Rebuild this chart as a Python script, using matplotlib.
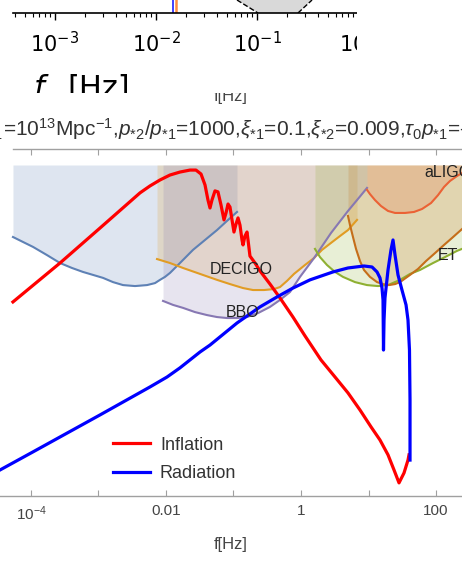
import numpy as np
import matplotlib
matplotlib.use("Agg")
import matplotlib.pyplot as plt
from matplotlib.patches import Rectangle
from matplotlib.transforms import Bbox, TransformedBbox

plt.rcParams["font.family"] = ["Liberation Sans", "DejaVu Sans"]
plt.rcParams["mathtext.fontset"] = "custom"
plt.rcParams["mathtext.rm"] = "Liberation Sans"
plt.rcParams["mathtext.it"] = "Liberation Sans:italic"
plt.rcParams["mathtext.bf"] = "Liberation Sans:bold"

# ---- data: log10(f [Hz]) and log10(Omega) ----
infl_logf = [-4.267, -3.570, -2.978, -2.385, -2.237, -2.089, -1.941, -1.793, -1.644,
             -1.556, -1.481, -1.422, -1.378, -1.348, -1.319, -1.274, -1.230, -1.185,
             -1.141, -1.111, -1.081, -1.052, -1.022, -0.993, -0.963, -0.933, -0.904,
             -0.874, -0.859, -0.830, -0.800, -0.785, -0.756, -0.681, -0.607, -0.459,
             -0.311, -0.119, 0.059, 0.296, 0.504, 0.696, 0.874, 1.037, 1.170, 1.289,
             1.378, 1.452, 1.526, 1.585, 1.600]
infl_logo = [-10.17, -8.60, -7.19, -5.77, -5.49, -5.25, -5.05, -4.93, -4.85,
             -4.85, -5.01, -5.45, -6.06, -6.38, -6.06, -5.69, -5.73, -6.26,
             -6.86, -6.58, -6.22, -6.34, -6.86, -7.35, -7.03, -6.78, -7.07,
             -7.67, -7.87, -7.51, -7.35, -7.67, -8.32, -8.60, -8.92, -9.45,
             -10.01, -10.78, -11.54, -12.51, -13.20, -13.84, -14.53, -15.21, -15.74, -16.34,
             -16.95, -17.47, -17.07, -16.55, -16.34]

rad_logf = [-4.459, -3.970, -2.978, -2.237, -1.985, -1.793, -1.496, -1.348, -0.948,
            -0.607, -0.356, -0.119, 0.133, 0.474, 0.696, 0.933, 1.052, 1.126, 1.170,
            1.200, 1.215, 1.222, 1.230, 1.244, 1.289, 1.333, 1.363, 1.393, 1.437,
            1.496, 1.556, 1.585, 1.607, 1.615, 1.615]
rad_logo = [-16.95, -16.22, -14.73, -13.60, -13.20, -12.83, -12.19, -11.91, -11.02,
            -10.37, -9.97, -9.61, -9.28, -8.96, -8.80, -8.72, -8.76, -8.96, -9.20,
            -9.61, -10.09, -12.11, -10.90, -10.01, -8.88, -8.07, -7.67, -8.28, -9.08,
            -9.69, -10.29, -10.90, -12.11, -14.13, -16.55]

lisa_logf = [-4.267, -4.119, -3.970, -3.763, -3.570, -3.393, -3.230, -3.081, -2.933,
             -2.785, -2.637, -2.459, -2.281, -2.163, -2.089, -2.015, -1.941, -1.793,
             -1.600, -1.422, -1.244, -1.096, -0.948]
lisa_logo = [-7.55, -7.75, -7.95, -8.28, -8.60, -8.80, -8.96, -9.08, -9.20,
             -9.37, -9.49, -9.53, -9.49, -9.41, -9.28, -9.16, -9.00, -8.60,
             -8.07, -7.67, -7.27, -6.90, -6.54]

decigo_logf = [-2.133, -1.941, -1.748, -1.496, -1.244, -1.052, -0.859, -0.711, -0.548,
               -0.400, -0.311, -0.207, -0.104, 0.059, 0.193, 0.311, 0.444, 0.578,
               0.696, 0.830]
decigo_logo = [-8.44, -8.60, -8.80, -9.04, -9.28, -9.45, -9.61, -9.69, -9.69,
               -9.65, -9.57, -9.32, -9.04, -8.68, -8.40, -8.07, -7.79, -7.51,
               -7.27, -6.86]

bbo_logf = [-2.044, -1.896, -1.748, -1.570, -1.393, -1.244, -1.096, -0.948, -0.800,
            -0.637, -0.459, -0.311, -0.163, -0.015, 0.193, 0.444, 0.696, 0.830, 0.978]
bbo_logo = [-10.13, -10.29, -10.41, -10.58, -10.70, -10.78, -10.82, -10.82, -10.78,
            -10.62, -10.37, -10.09, -9.77, -9.16, -8.40, -7.39, -6.50, -6.06, -5.57]

et_logf = [0.207, 0.281, 0.385, 0.504, 0.622, 0.800, 0.978, 1.141, 1.289, 1.467,
           1.615, 1.763, 1.956, 2.133, 2.311, 2.385]
et_logo = [-8.03, -8.36, -8.68, -8.96, -9.16, -9.37, -9.49, -9.53, -9.49, -9.28,
           -9.04, -8.88, -8.60, -8.36, -8.11, -8.03]

ce_logf = [0.696, 0.726, 0.770, 0.815, 0.874, 0.933, 1.022, 1.126, 1.215, 1.304,
           1.393, 1.467, 1.615, 1.733, 1.852, 1.985, 2.119, 2.237, 2.385]
ce_logo = [-6.70, -7.07, -7.55, -8.03, -8.52, -8.88, -9.16, -9.37, -9.45, -9.49,
           -9.45, -9.37, -9.08, -8.84, -8.52, -8.20, -7.87, -7.59, -7.23]

ligo_logf = [0.978, 1.022, 1.096, 1.185, 1.289, 1.393, 1.541, 1.674, 1.793, 1.926,
             2.030, 2.119, 2.207, 2.311, 2.385]
ligo_logo = [-5.65, -5.82, -6.06, -6.30, -6.50, -6.58, -6.58, -6.54, -6.42, -6.18,
             -5.86, -5.53, -5.29, -5.09, -4.97]

fill_top = -4.645

# detectors in the cropped strip at the top (log10 f)
strip_lines = [-1.832, -1.802]
strip_poly_f = [-1.198, -0.990, -0.594, -0.455]

W, H = 462, 561


def fx(px):
    return px / W


def fy(py):
    return 1 - py / H


fig = plt.figure(figsize=(W / 100, H / 100), dpi=100)

# ---------------- main panel ----------------
ax = fig.add_axes([0, fy(496), 1, (496 - 149) / H])
ax.set_xscale("log")
ax.set_yscale("log")

detectors = [
    (lisa_logf, lisa_logo, "#5e81b5"),
    (decigo_logf, decigo_logo, "#e19c24"),
    (bbo_logf, bbo_logo, "#8778b3"),
    (et_logf, et_logo, "#8fb032"),
    (ce_logf, ce_logo, "#c56e1a"),
    (ligo_logf, ligo_logo, "#eb6235"),
]
for lf, lo, c in detectors:
    f = 10.0 ** np.array(lf)
    o = 10.0 ** np.array(lo)
    ax.fill_between(f, o, 10.0 ** fill_top, color=c, alpha=0.2, lw=0)
for lf, lo, c in detectors:
    ax.plot(10.0 ** np.array(lf), 10.0 ** np.array(lo), color=c, lw=1.5)

l_inf, = ax.plot(10.0 ** np.array(infl_logf), 10.0 ** np.array(infl_logo),
                 color="#ff0000", lw=2.3, label="Inflation", zorder=5)
l_rad, = ax.plot(10.0 ** np.array(rad_logf), 10.0 ** np.array(rad_logo),
                 color="#0000ff", lw=2.3, label="Radiation", zorder=5)

lab_kw = dict(fontsize=11.5, color="#222222", va="center", zorder=6)
ax.text(10 ** -0.889, 10 ** -8.88, "DECIGO", ha="center", **lab_kw)
ax.text(10 ** -0.859, 10 ** -10.58, "BBO", ha="center", **lab_kw)
ax.text(10 ** 2.03, 10 ** -8.28, "ET", ha="left", **lab_kw)
ax.text(10 ** 1.822, 10 ** -4.93, "aLIGO", ha="left", **lab_kw)

ax.set_xlim(10 ** -4.459, 10 ** 2.385)
ax.set_ylim(1e-18, 1e-4)

for s in ["left", "right"]:
    ax.spines[s].set_visible(False)
for s in ["top", "bottom"]:
    ax.spines[s].set_color("#a0a0a0")
    ax.spines[s].set_linewidth(1.0)
ax.spines["top"].set_bounds(10 ** -4.267, 10 ** 2.385)

ax.set_xticks(10.0 ** np.arange(-4, 3))
ax.set_xticklabels([r"$10^{-4}$", "", "0.01", "", "1", "", "100"])
ax.xaxis.set_minor_locator(matplotlib.ticker.NullLocator())
ax.yaxis.set_major_locator(matplotlib.ticker.NullLocator())
ax.yaxis.set_minor_locator(matplotlib.ticker.NullLocator())
ax.tick_params(axis="x", which="major", direction="in", length=4, width=0.8,
               color="#a0a0a0", top=True, labelsize=11, labelcolor="#444444", pad=6)

ax.legend(handles=[l_inf, l_rad], loc="center left",
          bbox_to_anchor=(fx(113), fy(459.5)), bbox_transform=fig.transFigure,
          frameon=False, fontsize=13, handlelength=2.05, handletextpad=0.55,
          labelspacing=0.65, borderpad=0, borderaxespad=0, labelcolor="#333333")

fig.text(fx(231), fy(545), "f[Hz]", ha="center", va="center", fontsize=12,
         color="#444444")

# title line, cut at both sides
t_kw = dict(fontsize=15, color="#333333", va="baseline")
fig.text(fx(3), fy(136), r"$p_{*1}$", ha="right", **t_kw)
fig.text(fx(3), fy(136),
         r"=$10^{13}$Mpc$^{-1}$,$p_{*2}/p_{*1}$=1000,$\xi_{*1}$=0.1,"
         r"$\xi_{*2}$=0.009,$\tau_0 p_{*1}$=-1", ha="left", **t_kw)

# small axis label of the panel above, its top hidden
small = fig.text(fx(231), fy(101), "f[Hz]", ha="center", va="baseline",
                 fontsize=12, color="#444444")
small.set_clip_box(TransformedBbox(Bbox([[0, 0], [1, fy(93)]]), fig.transFigure))
small.set_clip_on(True)

# ---------------- cropped strip at the very top ----------------
axt = fig.add_axes([fx(13), fy(13), 1 - fx(13), 13 / H])
axt.set_xscale("log")
axt.set_xlim(10 ** -3.416, 10 ** 1.030)
axt.set_ylim(0, 1)
for s in ["top", "left", "right"]:
    axt.spines[s].set_visible(False)
axt.spines["bottom"].set_linewidth(1.2)
axt.set_yticks([])
axt.set_xticks(10.0 ** np.arange(-3, 2))
axt.set_xticklabels([r"$10^{-3}$", r"$10^{-2}$", r"$10^{-1}$", r"$10^{0}$", r"$10^{1}$"],
                    math_fontfamily="dejavusans", fontfamily="DejaVu Sans")
axt.tick_params(axis="x", which="major", length=5, width=1, labelsize=15, pad=8)
axt.tick_params(axis="x", which="minor", length=3, width=0.8)

pf = 10.0 ** np.array(strip_poly_f)
axt.fill([pf[0], pf[1], pf[2], pf[3]], [1, 0, 0, 1], color="#d9d9d9", lw=0)
axt.plot([pf[0], pf[1]], [1, 0], "k--", lw=1)
axt.plot([pf[2], pf[3]], [0, 1], "k--", lw=1)
axt.plot([10 ** strip_lines[0]] * 2, [0, 1], color="#2020ff", lw=1.2)
axt.plot([10 ** strip_lines[1]] * 2, [0, 1], color="#ff8c40", lw=1.8)

fig.add_artist(Rectangle((fx(357), fy(62)), 1 - fx(357), 62 / H,
                         transform=fig.transFigure, facecolor="white",
                         edgecolor="none", zorder=5))

big_clip = TransformedBbox(Bbox([[0, fy(93)], [1, 1]]), fig.transFigure)
for x0, s, kw in [(33, r"$f$", dict(math_fontfamily="dejavusans")),
                  (67, "[Hz]", dict(fontfamily="DejaVu Sans"))]:
    t = fig.text(fx(x0), fy(97), s, fontsize=22, va="baseline", ha="left", **kw)
    t.set_clip_box(big_clip)
    t.set_clip_on(True)

fig.savefig("out.png", dpi=100)
